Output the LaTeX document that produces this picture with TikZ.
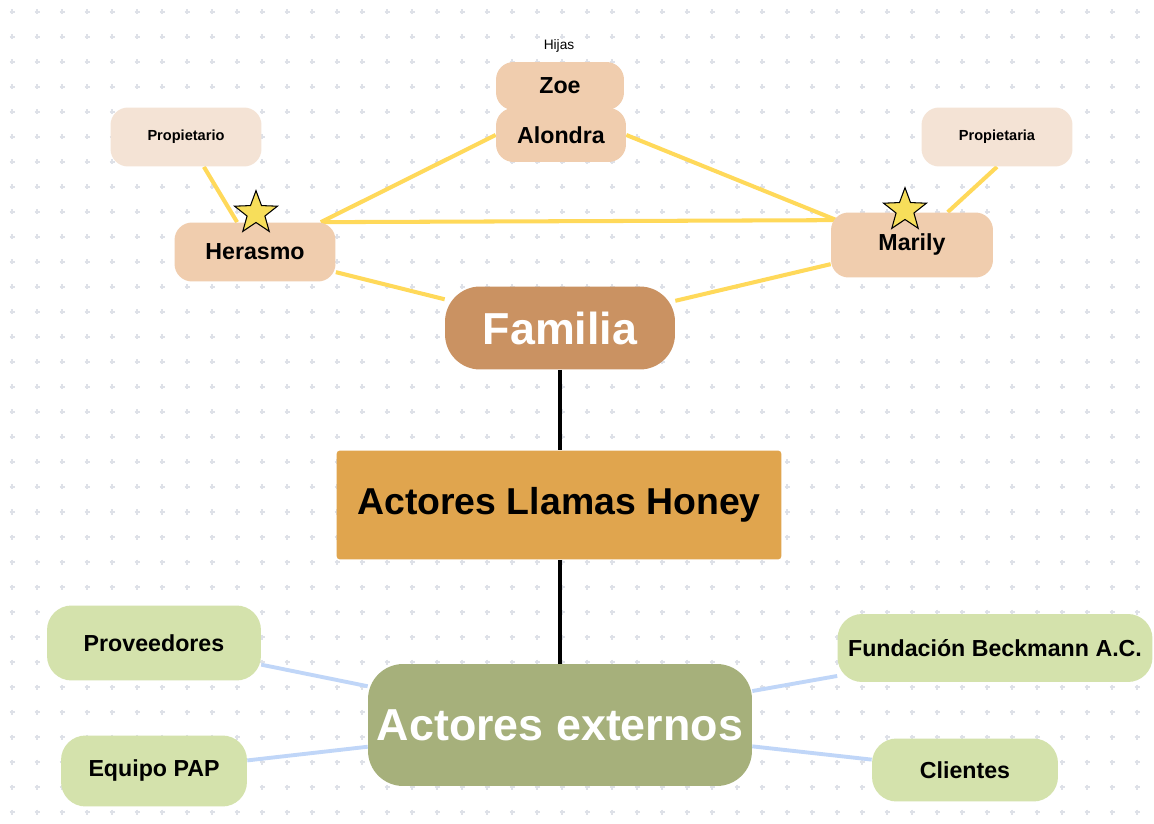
\documentclass[tikz,border=0pt]{standalone}
\usepackage{fontspec}
\setmainfont{Liberation Sans}
\usepackage{tikz}
\usetikzlibrary{shapes.geometric, backgrounds, calc}
\definecolor{peachcolor}{RGB}{240, 205, 174}
\definecolor{rolecolor}{RGB}{244, 227, 213}
\definecolor{familycolor}{RGB}{202, 146, 98}
\definecolor{corecolor}{RGB}{224, 165, 78}
\definecolor{externcolor}{RGB}{166, 176, 123}
\definecolor{actorcolor}{RGB}{212, 226, 172}
\definecolor{linkyellow}{RGB}{255, 217, 90}
\definecolor{linkblue}{RGB}{192, 214, 248}
\definecolor{staryellow}{RGB}{247, 222, 90}
\definecolor{gridcolor}{RGB}{222, 225, 232}

\begin{document}
\begin{tikzpicture}[
    x=0.02cm, y=-0.02cm,
    person/.style={fill=peachcolor, rounded corners=10pt, minimum width=3.22cm, minimum height=1.18cm, inner sep=0pt, font=\fontsize{13.2}{15}\selectfont\bfseries},
    role/.style={fill=rolecolor, rounded corners=10pt, minimum width=3.02cm, minimum height=1.18cm, inner sep=0pt, font=\fontsize{8.3}{10}\selectfont\bfseries},
    hub/.style={fill=#1, rounded corners=20pt, inner sep=0pt, text=white, font=\fontsize{25.5}{30}\selectfont\bfseries},
    actor/.style={fill=actorcolor, rounded corners=14pt, inner sep=0pt, font=\fontsize{13.2}{15}\selectfont\bfseries},
    prize/.style={star, star points=5, star point ratio=2.4, fill=staryellow, draw=black, line width=0.6pt, minimum size=0.9cm, inner sep=0pt},
    famlink/.style={draw=linkyellow, line width=2.3pt},
    extlink/.style={draw=linkblue, line width=2.2pt},
    trunk/.style={draw=black, line width=2.3pt}
]
    \useasboundingbox (0,0) rectangle (1154,824);

    % Dot grid
    \begin{scope}[on background layer]
        \fill[white] (0,0) rectangle (1154,824);
        \foreach \gx in {12,37,...,1154}
            \foreach \gy in {12,37,...,824}
                \draw[gridcolor, line width=0.7pt] (\gx-2.5,\gy) -- (\gx+2.5,\gy) (\gx,\gy-2.5) -- (\gx,\gy+2.5);
    \end{scope}

    % Daughters
    \node[person, minimum width=2.56cm, minimum height=0.96cm] (zoe) at (560, 86) {Zoe};
    \node[person, minimum width=2.6cm, minimum height=1.08cm] (alondra) at (561, 135) {Alondra};
    \node[font=\fontsize{7.8}{9}\selectfont] (hijas) at (559, 46) {Hijas};

    % Parents
    \node[role] (propietario) at (186, 137) {Propietario};
    \node[person] (herasmo) at (255, 252) {Herasmo};
    \node[role] (propietaria) at (997, 137) {Propietaria};
    \node[person, minimum width=3.24cm, minimum height=1.3cm] (marily) at (912, 245) {Marily};

    % Core
    \node[hub=familycolor, minimum width=4.6cm, minimum height=1.66cm] (familia) at (560, 328) {Familia};
    \node[fill=corecolor, rounded corners=2pt, minimum width=8.9cm, minimum height=2.18cm, inner sep=0pt, font=\fontsize{21.3}{25}\selectfont\bfseries] (llamas) at (559, 505) {Actores Llamas Honey};
    \node[hub=externcolor, minimum width=7.68cm, minimum height=2.44cm] (externos) at (560, 725) {Actores externos};

    % External actors
    \node[actor, minimum width=4.28cm, minimum height=1.5cm] (proveedores) at (154, 643) {Proveedores};
    \node[actor, minimum width=3.72cm, minimum height=1.42cm] (equipo) at (154, 771) {Equipo PAP};
    \node[actor, minimum width=6.3cm, minimum height=1.36cm] (fundacion) at (995, 648) {Fundación Beckmann A.C.};
    \node[actor, minimum width=3.72cm, minimum height=1.26cm] (clientes) at (965, 770) {Clientes};

    % Stars
    \node[prize] (starh) at ($(herasmo.north)+(1,-9)$) {};
    \node[prize] (starm) at ($(marily.north)+(-7,-2)$) {};

    % Connections
    \begin{scope}[on background layer]
        \draw[famlink] (propietario) -- (herasmo);
        \draw[famlink] (propietaria.south) -- (marily);
        \draw[famlink] ($(herasmo.north east)+(-15,0)$) -- (alondra.west);
        \draw[famlink] ($(herasmo.north east)+(-15,0)$) -- ($(marily.north west)+(6,8)$);
        \draw[famlink] (alondra.east) -- ($(marily.north west)+(6,8)$);
        \draw[famlink] (herasmo) -- (familia);
        \draw[famlink] (marily) -- (familia);
        \draw[trunk] (familia) -- (familia |- llamas.north);
        \draw[trunk] (familia |- llamas.south) -- (externos);
        \draw[extlink] (proveedores) -- (externos);
        \draw[extlink] (equipo) -- (externos);
        \draw[extlink] (fundacion) -- (externos);
        \draw[extlink] (clientes) -- (externos);
    \end{scope}
\end{tikzpicture}
\end{document}
